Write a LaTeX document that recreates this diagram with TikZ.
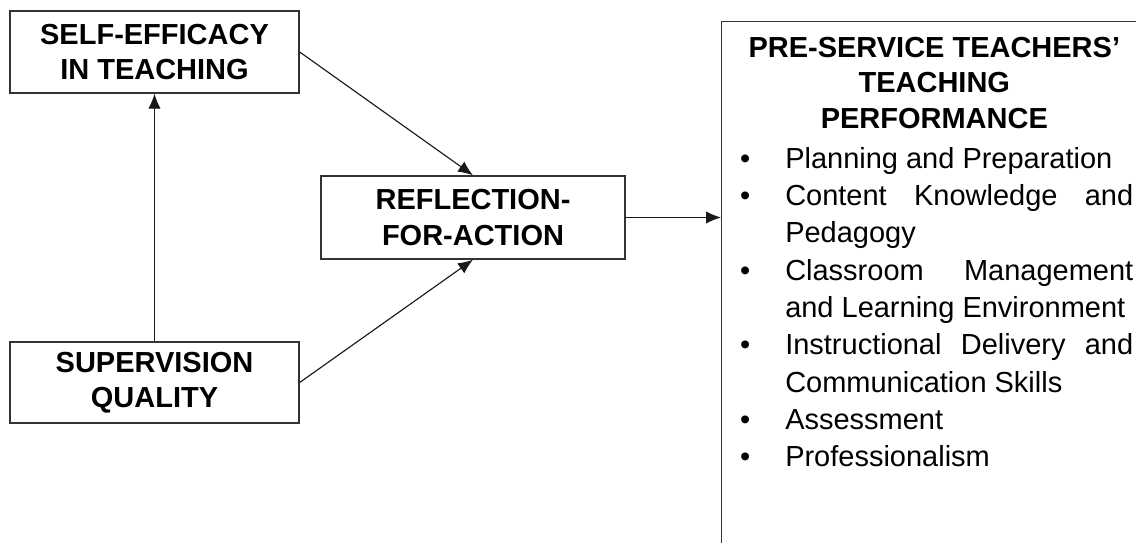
\documentclass[tikz,border=0pt]{standalone}
\usepackage{fontspec}
\setmainfont{Liberation Sans}
\usepackage{enumitem}
\usetikzlibrary{arrows.meta}
\hyphenpenalty=10000
\exhyphenpenalty=10000
\tolerance=9999

\begin{document}
\begin{tikzpicture}[x=0.02cm, y=-0.02cm,
    every node/.style={font=\fontsize{16.5}{20.2}\selectfont, inner sep=0pt},
    bloc/.style={draw=black!80, line width=0.8pt, align=center, font=\fontsize{16.5}{20}\selectfont\bfseries},
    fleche/.style={draw=black!90, line width=0.65pt, -{Latex[length=8.5pt, width=7pt]}}]
    \useasboundingbox (0,0) rectangle (1136,543);
    \clip (0,0) rectangle (1136,543);

    % Les blocs
    \node[bloc, minimum width=5.78cm, minimum height=1.64cm] (self) at (154.5,52) {SELF-EFFICACY\\IN TEACHING};
    \node[bloc, minimum width=5.78cm, minimum height=1.62cm] (sup) at (154.5,382.5) {SUPERVISION\\QUALITY};
    \node[bloc, minimum width=6.08cm, minimum height=1.66cm] (refl) at (473,217.5) {REFLECTION-\\FOR-ACTION};
    \node[draw=black!80, line width=0.8pt, anchor=north west, minimum width=10cm, minimum height=12cm] (perf) at (721,21) {};
    \node[anchor=north west, text width=7.96cm, align=justify] (perftext) at (735,36.5) {%
        {\centering\bfseries PRE-SERVICE TEACHERS’\\TEACHING\\PERFORMANCE\par}
        \fontsize{16.5}{21.25}\selectfont
        \begin{itemize}[label=\textbullet, leftmargin=28.4pt, labelsep=19.9pt, labelwidth=8.5pt,
            topsep=1.5pt, partopsep=0pt, itemsep=0pt, parsep=0pt]
            \item Planning and Preparation
            \item Content Knowledge and Pedagogy
            \item Classroom Management and Learning Environment
            \item Instructional Delivery and Communication Skills
            \item Assessment
            \item Professionalism
        \end{itemize}};

    % Les flèches
    \draw[fleche] (sup) -- (self);
    \draw[fleche] (self.east) -- (refl.north);
    \draw[fleche] (sup.east) -- (refl.south);
    \draw[fleche] (refl.east) -- (refl.east -| perf.west);
\end{tikzpicture}
\end{document}
